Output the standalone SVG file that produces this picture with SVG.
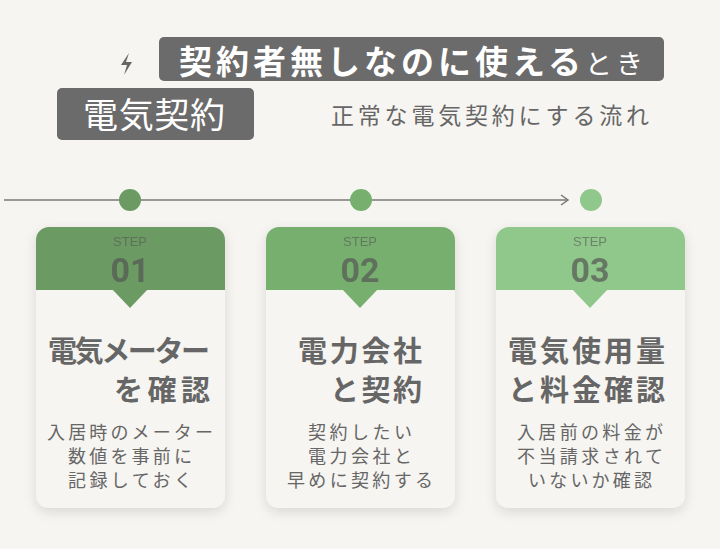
<svg xmlns="http://www.w3.org/2000/svg" width="720" height="549" viewBox="0 0 720 549">
<defs>
<filter id="sh" x="-20%" y="-20%" width="140%" height="140%"><feDropShadow dx="0" dy="4" stdDeviation="6" flood-color="#000" flood-opacity="0.12"/></filter>
<marker id="ar" markerWidth="12" markerHeight="12" refX="10" refY="6" orient="auto" markerUnits="userSpaceOnUse"><path d="M3,1 L10,6 L3,11" fill="none" stroke="#777" stroke-width="1.5"/></marker>
</defs>
<style>
text{font-family:"Noto Sans CJK JP","Noto Sans",sans-serif;}
.t{fill:#666;font-weight:bold;font-size:29px;}
.b{fill:#666;font-size:18px;text-anchor:middle;}
.st{fill:#555;font-size:13px;text-anchor:middle;opacity:.6;font-family:"Liberation Sans",sans-serif;}
.n{fill:#555;font-size:34px;font-weight:bold;text-anchor:middle;opacity:.7;font-family:"Roboto",sans-serif;}
</style>
<rect width="720" height="549" fill="#f6f5f1"/>
<g id="header">
<rect x="159" y="37" width="505" height="44" rx="5" fill="#6b6b6b"/>
<rect x="57" y="88" width="197" height="52" rx="5" fill="#6b6b6b"/>
<path d="M129,53 L121,65 L127,65 L124,75 L132,62 L126,62 Z" fill="#666"/>
<text x="179" y="74" font-size="33" font-weight="bold" fill="#fff" textLength="402" lengthAdjust="spacing">契約者無しなのに使える</text>
<text x="585" y="74" font-size="27" fill="#fff" textLength="58" lengthAdjust="spacing">とき</text>
<text x="83" y="128" font-size="35" fill="#fff" textLength="142" lengthAdjust="spacing">電気契約</text>
<text x="331" y="124" font-size="23" fill="#666" textLength="318" lengthAdjust="spacing">正常な電気契約にする流れ</text>
</g>
<g id="connectors">
<line x1="4" y1="200" x2="568" y2="200" stroke="#777" stroke-width="1.5" marker-end="url(#ar)"/>
<circle cx="130" cy="200" r="11" fill="#6b9a63"/>
<circle cx="361" cy="200" r="11" fill="#77b06e"/>
<circle cx="591" cy="200" r="11" fill="#8fc88a"/>
</g>
<g id="step1">
<rect x="36" y="227" width="189" height="281" rx="13" fill="#f6f5f1" filter="url(#sh)"/>
<path d="M36,290 V240 a13,13 0 0 1 13,-13 H212 a13,13 0 0 1 13,13 V290 Z" fill="#6b9a63"/>
<path d="M112,289 L148,289 L130,308 Z" fill="#6b9a63"/>
<text x="130" y="246" class="st">STEP</text>
<text x="130" y="282" class="n">01</text>
<text x="48" y="362" class="t" textLength="162" lengthAdjust="spacing">電気メーター</text>
<text x="114" y="401" class="t" textLength="96" lengthAdjust="spacing">を確認</text>
<text x="130" y="439" class="b" textLength="166" lengthAdjust="spacing">入居時のメーター</text>
<text x="130" y="463" class="b" textLength="124" lengthAdjust="spacing">数値を事前に</text>
<text x="130" y="487" class="b" textLength="124" lengthAdjust="spacing">記録しておく</text>
</g>
<g id="step2">
<rect x="266" y="227" width="189" height="281" rx="13" fill="#f6f5f1" filter="url(#sh)"/>
<path d="M266,290 V240 a13,13 0 0 1 13,-13 H442 a13,13 0 0 1 13,13 V290 Z" fill="#77b06e"/>
<path d="M342,289 L378,289 L360,308 Z" fill="#77b06e"/>
<text x="360" y="246" class="st">STEP</text>
<text x="360" y="282" class="n">02</text>
<text x="298" y="362" class="t" textLength="124" lengthAdjust="spacing">電力会社</text>
<text x="330" y="401" class="t" textLength="92" lengthAdjust="spacing">と契約</text>
<text x="360" y="439" class="b" textLength="104" lengthAdjust="spacing">契約したい</text>
<text x="360" y="463" class="b" textLength="104" lengthAdjust="spacing">電力会社と</text>
<text x="360" y="487" class="b" textLength="146" lengthAdjust="spacing">早めに契約する</text>
</g>
<g id="step3">
<rect x="496" y="227" width="189" height="281" rx="13" fill="#f6f5f1" filter="url(#sh)"/>
<path d="M496,290 V240 a13,13 0 0 1 13,-13 H672 a13,13 0 0 1 13,13 V290 Z" fill="#8fc88a"/>
<path d="M572,289 L608,289 L590,308 Z" fill="#8fc88a"/>
<text x="590" y="246" class="st">STEP</text>
<text x="590" y="282" class="n">03</text>
<text x="508" y="362" class="t" textLength="157" lengthAdjust="spacing">電気使用量</text>
<text x="508" y="401" class="t" textLength="157" lengthAdjust="spacing">と料金確認</text>
<text x="590" y="439" class="b" textLength="146" lengthAdjust="spacing">入居前の料金が</text>
<text x="590" y="463" class="b" textLength="146" lengthAdjust="spacing">不当請求されて</text>
<text x="590" y="487" class="b" textLength="124" lengthAdjust="spacing">いないか確認</text>
</g>
</svg>
